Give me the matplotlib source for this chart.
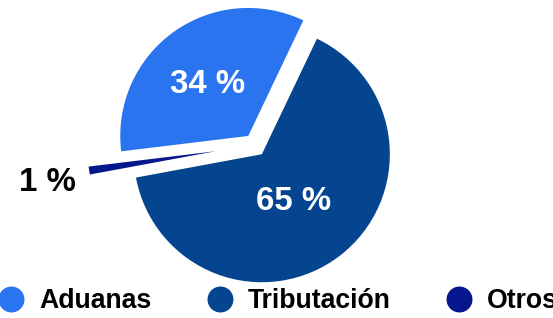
import numpy as np
import matplotlib
matplotlib.use("Agg")
import matplotlib.pyplot as plt
from matplotlib.lines import Line2D
from matplotlib.transforms import ScaledTranslation

categories = ["Aduanas", "Tributación", "Otros"]
values = [34, 65, 1]
colors = ["#2b74f0", "#05458f", "#06168c"]
explode = [0.089, 0.089, 0.31]
label_dist = [0.55, 0.41, 1.33]   # where each % label sits, in radii from the wedge tip

plt.rcParams['font.family'] = ['Liberation Sans', 'DejaVu Sans']

W, H = 553, 318
fig = plt.figure(figsize=(W / 100, H / 100), dpi=100)

# pie radius 128 px, centre at (255, 145) px from the top-left
R = 128.0
cx, cy = 254.9, H - 145.2
half = 1.5 * R
ax = fig.add_axes([(cx - half) / W, (cy - half) / H, 2 * half / W, 2 * half / H])

wedges, texts, autotexts = ax.pie(
    values, colors=colors, explode=explode, startangle=186.9,
    counterclock=False, autopct=lambda p: f"{p:.0f} %",
    wedgeprops=dict(linewidth=0),
    textprops=dict(fontsize=23.8, fontweight='bold'))
ax.set_xlim(-1.5, 1.5)
ax.set_ylim(-1.5, 1.5)
ax.set_aspect('equal')
ax.axis('off')

# nudge labels down a little so the digits (not the text box) are centred
shift = ax.transData + ScaledTranslation(0, -0.055, fig.dpi_scale_trans)
for w, t, d in zip(wedges, autotexts, label_dist):
    mid = np.deg2rad((w.theta1 + w.theta2) / 2)
    x0, y0 = w.center
    t.set_position((x0 + d * w.r * np.cos(mid), y0 + d * w.r * np.sin(mid)))
    t.set_transform(shift)
    t.set_ha('center')
    t.set_va('center')
    t.set_color('white' if d < 1 else 'black')

handles = [Line2D([], [], marker='o', linestyle='none', markersize=18.7,
                  markerfacecolor=c, markeredgewidth=0) for c in colors]
fig.legend(handles, categories, loc='center left',
           bbox_to_anchor=(-2 / W, 17 / H), ncol=3, frameon=False,
           borderpad=0, borderaxespad=0, handlelength=1.0,
           handletextpad=0.56, columnspacing=2.05,
           prop=dict(size=19.2, weight='bold'))

fig.savefig("out.png", dpi=100)
